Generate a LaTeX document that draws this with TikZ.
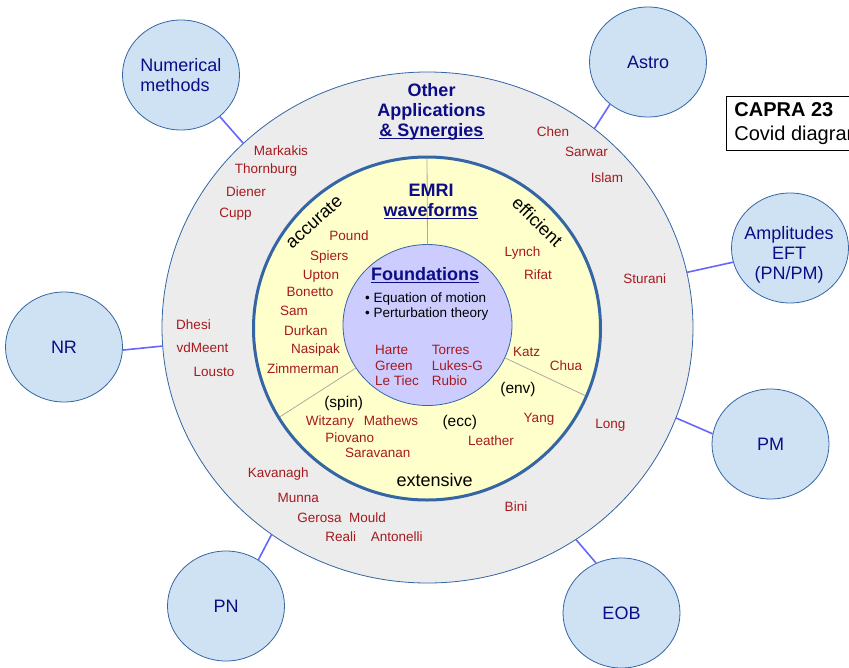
\documentclass[tikz,border=0pt]{standalone}
\usepackage{fontspec}
\setmainfont{Liberation Sans}
\usetikzlibrary{shapes.geometric}
\definecolor{edge}{RGB}{52,101,164}
\definecolor{ringgrey}{RGB}{236,236,236}
\definecolor{ringyellow}{RGB}{255,255,204}
\definecolor{corelav}{RGB}{204,204,255}
\definecolor{satblue}{RGB}{207,226,243}
\definecolor{linkblue}{RGB}{102,102,255}
\definecolor{namered}{RGB}{166,25,30}
\definecolor{navy}{RGB}{12,12,135}
\definecolor{splitgrey}{RGB}{172,172,165}
\newcommand{\namefont}{\fontsize{13.5}{16}\selectfont}
\newcommand{\headfont}{\bfseries\fontsize{18}{20}\selectfont}
\newcommand{\wordfont}{\fontsize{18}{20}\selectfont}
\newcommand{\tagfont}{\fontsize{15.5}{18}\selectfont}
\newcommand{\topicfont}{\fontsize{18}{20}\selectfont}
\newcommand{\capfont}{\fontsize{20}{23.7}\selectfont}
\newcommand{\undl}[1]{\setbox0\hbox{#1}\rlap{\rule[-3pt]{\wd0}{1.4pt}}\box0}

\begin{document}
\begin{tikzpicture}[x=1pt,y=-1pt,
  who/.style={anchor=base, inner sep=0, text=namered, font=\namefont},
  head/.style={anchor=base, inner sep=0, text=navy, font=\headfont},
  word/.style={inner sep=0, font=\wordfont},
  tag/.style={anchor=base, inner sep=0, font=\tagfont},
  topic/.style={ellipse, draw=edge, line width=0.8, fill=satblue, minimum width=117, minimum height=110, inner sep=0, text=navy, font=\topicfont, align=center},
  link/.style={draw=linkblue, line width=1.6},
  split/.style={draw=splitgrey, line width=0.8}]
\useasboundingbox (0,0) rectangle (849,667);
\node [ellipse, draw=edge, line width=0.8, fill=ringgrey, minimum width=531, minimum height=511, inner sep=0, outer sep=0] (outer) at (427.5,327.5) {};
\node [ellipse, draw=edge, line width=3, fill=ringyellow, minimum width=347, minimum height=343, inner sep=0, outer sep=0] (ring) at (427,328.5) {};
\node [ellipse, draw=edge, line width=0.8, fill=corelav, minimum width=169, minimum height=161, inner sep=0, outer sep=0] (core) at (427.5,325) {};
\draw [split, shorten >=1.5] (core.90) -- (ring.90);
\draw [split, shorten >=1.5] (core.211) -- (ring.211);
\draw [split, shorten >=1.5] (core.337.5) -- (ring.337.5);
\node [topic, align=left] (num) at (181,75) {Numerical\\methods};
\node [topic] (astro) at (648,62) {Astro};
\node [topic] (amp) at (790,248) {};
\node [inner sep=0, text=navy, font=\topicfont, align=center] (amptext) at (789,255) {Amplitudes\\EFT\\(PN/PM)};
\node [topic] (nr) at (64,347) {NR};
\node [topic] (pm) at (770.5,444) {PM};
\node [topic] (pn) at (226,606) {PN};
\node [topic] (eob) at (621.5,613) {EOB};
\draw [link] (num.-47) -- (outer.135.5);
\draw [link] (astro.228) -- (outer.50.5);
\draw [link] (amp.194.5) -- (outer.12);
\draw [link] (nr.-3) -- (outer.184.9);
\draw [link] (pm.170) -- (outer.340.4);
\draw [link] (eob.117.9) -- (outer.305);
\draw [link] (pn.55.7) -- (outer.233.6);
\node [draw, line width=0.8, anchor=north west, align=left, inner xsep=8, inner ysep=6, font=\capfont] (capra) at (726,96) {\textbf{CAPRA 23}\\Covid diagram};
\node [head] (other) at (431.5,96) {Other};
\node [head] (applications) at (431.5,116) {Applications};
\node [head] (synergies) at (431.5,136) {\undl{\& Synergies}};
\node [head] (emri) at (431,196) {EMRI};
\node [head] (waveforms) at (430.7,216) {\undl{waveforms}};
\node [head] (foundations) at (425,280) {\undl{Foundations}};
\node [anchor=base west, inner sep=0, font=\namefont] (eom) at (365,302.5) {\textbullet\ Equation of motion};
\node [anchor=base west, inner sep=0, font=\namefont] (pert) at (365,317) {\textbullet\ Perturbation theory};
\node [word, rotate=42] (accurate) at (314,222) {accurate};
\node [word, rotate=-44] (efficient) at (537.5,221.5) {efficient};
\node [word, anchor=base] (extensive) at (434.7,486.5) {extensive};
\node [tag] (spin) at (343.7,407.7) {(spin)};
\node [tag] (ecc) at (459.8,426.7) {(ecc)};
\node [tag] (env) at (518,393.4) {(env)};
%\node [who] (names) at (0,0) {};
\node [who] (markakis) at (281,155) {Markakis};
\node [who] (thornburg) at (266,173) {Thornburg};
\node [who] (diener) at (246,196) {Diener};
\node [who] (cupp) at (235.5,217.7) {Cupp};
\node [who] (chen) at (553,136) {Chen};
\node [who] (sarwar) at (586.5,156) {Sarwar};
\node [who] (islam) at (607,182) {Islam};
\node [who] (sturani) at (644.7,283) {Sturani};
\node [who] (dhesi) at (193.5,329) {Dhesi};
\node [who] (vdmeent) at (202.5,352) {vdMeent};
\node [who] (lousto) at (214,376) {Lousto};
\node [who] (long) at (610.3,428) {Long};
\node [who] (kavanagh) at (278.3,477.5) {Kavanagh};
\node [who] (munna) at (298.3,502.5) {Munna};
\node [who] (gerosa) at (319.5,522.5) {Gerosa};
\node [who] (mould) at (367.5,522.5) {Mould};
\node [who] (reali) at (340.7,541.5) {Reali};
\node [who] (antonelli) at (396.8,541.5) {Antonelli};
\node [who] (bini) at (516,511.5) {Bini};
\node [who] (pound) at (349,240) {Pound};
\node [who] (spiers) at (329.3,260.5) {Spiers};
\node [who] (upton) at (321,279) {Upton};
\node [who] (bonetto) at (310,296.5) {Bonetto};
\node [who] (sam) at (294,315) {Sam};
\node [who] (durkan) at (306,335) {Durkan};
\node [who] (nasipak) at (315.5,353) {Nasipak};
\node [who] (zimmerman) at (303,373) {Zimmerman};
\node [who] (lynch) at (522.5,256.5) {Lynch};
\node [who] (rifat) at (538,279) {Rifat};
\node [who] (katz) at (526.7,356.5) {Katz};
\node [who] (chua) at (566,370) {Chua};
\node [who] (yang) at (539,422) {Yang};
\node [who] (leather) at (491,445) {Leather};
\node [who] (witzany) at (330,425.5) {Witzany};
\node [who] (mathews) at (391,425.5) {Mathews};
\node [who] (piovano) at (349.7,442.5) {Piovano};
\node [who] (saravanan) at (377.8,457.3) {Saravanan};
\node [who, anchor=base west] (harte) at (375,354.3) {Harte};
\node [who, anchor=base west] (green) at (375,370.3) {Green};
\node [who, anchor=base west] (letiec) at (375,385) {Le Tiec};
\node [who, anchor=base west] (torres) at (431.7,354.3) {Torres};
\node [who, anchor=base west] (lukesg) at (431.7,370.3) {Lukes-G};
\node [who, anchor=base west] (rubio) at (431.7,385) {Rubio};
\end{tikzpicture}
\end{document}
